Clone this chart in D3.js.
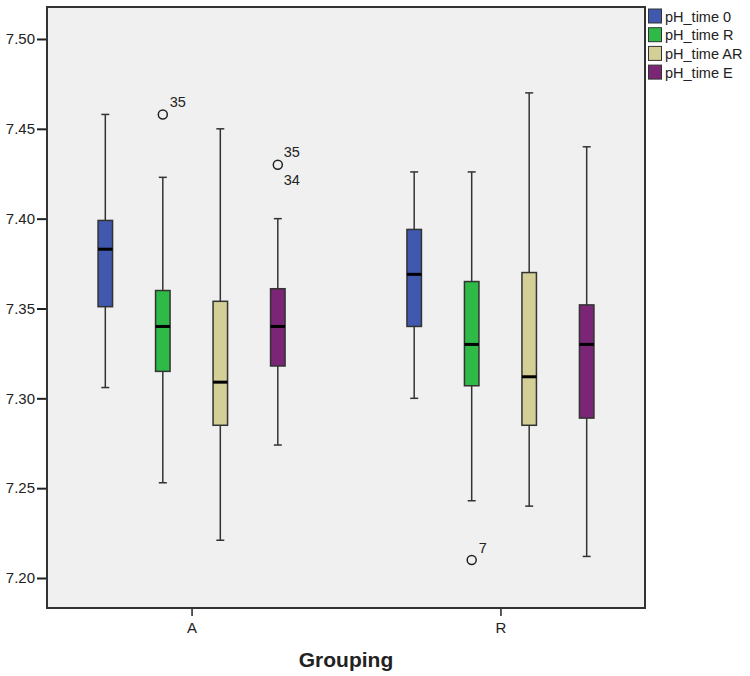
<!DOCTYPE html>
<html>
<head>
<meta charset="utf-8">
<script src="https://cdn.jsdelivr.net/npm/d3@7"></script>
<style>
  body { margin: 0; background: #fff; }
  svg { display: block; font-family: Arial, "Liberation Sans", sans-serif; }
</style>
</head>
<body>
<div id="chart"></div>
<script>
// groups on the x axis and the four measured series
const groups = ["A", "R"];
const seriesNames = ["pH_time 0", "pH_time R", "pH_time AR", "pH_time E"];
const seriesColors = ["#4058AD", "#2FBA48", "#D3CF97", "#7B2577"];
const yTicks = [7.20, 7.25, 7.30, 7.35, 7.40, 7.45, 7.50];

// box stats per group: [whiskerLow, q1, median, q3, whiskerHigh]
const statsA = [
  [7.306, 7.351, 7.383, 7.399, 7.458],
  [7.253, 7.315, 7.340, 7.360, 7.423],
  [7.221, 7.285, 7.309, 7.354, 7.450],
  [7.274, 7.318, 7.340, 7.361, 7.400]
];
const statsR = [
  [7.300, 7.340, 7.369, 7.394, 7.426],
  [7.243, 7.307, 7.330, 7.365, 7.426],
  [7.240, 7.285, 7.312, 7.370, 7.470],
  [7.212, 7.289, 7.330, 7.352, 7.440]
];

// outliers: group, series index, value, case labels
const outliers = [
  { group: "A", s: 1, value: 7.458, labels: ["35"] },
  { group: "A", s: 3, value: 7.430, labels: ["35", "34"] },
  { group: "R", s: 1, value: 7.210, labels: ["7"] }
];

const width = 750, height = 676;
const plot = { left: 47, top: 7, right: 645, bottom: 608 };

const svg = d3.select("#chart").append("svg")
  .attr("width", width)
  .attr("height", height);

// background of the plot
svg.append("rect")
  .attr("x", plot.left).attr("y", plot.top)
  .attr("width", plot.right - plot.left)
  .attr("height", plot.bottom - plot.top)
  .attr("fill", "#F0F0F0");

const x = d3.scalePoint().domain(groups)
  .range([plot.left, plot.right]).padding(0.468);

const inner = d3.scaleBand().domain(d3.range(seriesNames.length))
  .range([-115, 115]).paddingInner(0).paddingOuter(0);

const y = d3.scaleLinear().domain([7.1833, 7.5178])
  .range([plot.bottom, plot.top]);

const boxW = 14.5;
const capW = 8;

const statsByGroup = { A: statsA, R: statsR };

groups.forEach((g) => {
  statsByGroup[g].forEach((st, i) => {
    const cx = x(g) + inner(i) + inner.bandwidth() / 2;
    const gg = svg.append("g");
    // whisker
    gg.append("line")
      .attr("x1", cx).attr("x2", cx)
      .attr("y1", y(st[0])).attr("y2", y(st[4]))
      .attr("stroke", "#333").attr("stroke-width", 1.5);
    [st[0], st[4]].forEach((v) => {
      gg.append("line")
        .attr("x1", cx - capW / 2).attr("x2", cx + capW / 2)
        .attr("y1", y(v)).attr("y2", y(v))
        .attr("stroke", "#333").attr("stroke-width", 1.5);
    });
    // box
    gg.append("rect")
      .attr("x", cx - boxW / 2).attr("y", y(st[3]))
      .attr("width", boxW).attr("height", y(st[1]) - y(st[3]))
      .attr("fill", seriesColors[i])
      .attr("stroke", "#333").attr("stroke-width", 1.5);
    // median
    gg.append("line")
      .attr("x1", cx - boxW / 2).attr("x2", cx + boxW / 2)
      .attr("y1", y(st[2])).attr("y2", y(st[2]))
      .attr("stroke", "#000").attr("stroke-width", 3);
  });
});

// outliers
outliers.forEach((o) => {
  const cx = x(o.group) + inner(o.s) + inner.bandwidth() / 2;
  const cy = y(o.value);
  svg.append("circle")
    .attr("cx", cx).attr("cy", cy).attr("r", 4.5)
    .attr("fill", "none").attr("stroke", "#222").attr("stroke-width", 1.5);
  if (o.labels.length === 1) {
    svg.append("text")
      .attr("x", cx + 7).attr("y", cy - 7)
      .attr("font-size", 14.5).attr("fill", "#222")
      .text(o.labels[0]);
  } else {
    svg.append("text")
      .attr("x", cx + 6).attr("y", cy - 8)
      .attr("font-size", 14.5).attr("fill", "#222")
      .text(o.labels[0]);
    svg.append("text")
      .attr("x", cx + 6).attr("y", cy + 20)
      .attr("font-size", 14.5).attr("fill", "#222")
      .text(o.labels[1]);
  }
});

// axes
const yAxis = d3.axisLeft(y).tickValues(yTicks)
  .tickFormat(d3.format(".2f")).tickSize(10).tickSizeOuter(0);
const gy = svg.append("g")
  .attr("transform", `translate(${plot.left},0)`)
  .call(yAxis);
gy.select(".domain").remove();
gy.selectAll(".tick line").attr("stroke", "#222").attr("stroke-width", 2);
gy.selectAll(".tick text").attr("font-size", 15).attr("fill", "#222")
  .attr("font-family", "Arial, 'Liberation Sans', sans-serif").attr("dx", 1);

const xAxis = d3.axisBottom(x).tickSize(8).tickSizeOuter(0);
const gx = svg.append("g")
  .attr("transform", `translate(0,${plot.bottom})`)
  .call(xAxis);
gx.select(".domain").remove();
gx.selectAll(".tick line").attr("stroke", "#222").attr("stroke-width", 1.5);
gx.selectAll(".tick text").attr("font-size", 15).attr("fill", "#222")
  .attr("font-family", "Arial, 'Liberation Sans', sans-serif").attr("dy", "0.9em");

// frame
svg.append("rect")
  .attr("x", plot.left).attr("y", plot.top)
  .attr("width", plot.right - plot.left)
  .attr("height", plot.bottom - plot.top)
  .attr("fill", "none").attr("stroke", "#333").attr("stroke-width", 2);

// x axis title
svg.append("text")
  .attr("x", (plot.left + plot.right) / 2).attr("y", 667)
  .attr("text-anchor", "middle")
  .attr("font-size", 21).attr("font-weight", "bold").attr("fill", "#222")
  .text("Grouping");

// legend
const legend = svg.append("g").attr("transform", "translate(648,9)");
seriesNames.forEach((name, i) => {
  const row = legend.append("g").attr("transform", `translate(0,${i * 18.7})`);
  row.append("rect")
    .attr("x", 0.5).attr("y", 0).attr("width", 13).attr("height", 14)
    .attr("fill", seriesColors[i]).attr("stroke", "#333").attr("stroke-width", 1);
  row.append("text")
    .attr("x", 17).attr("y", 12.5)
    .attr("font-size", 14.5).attr("fill", "#222")
    .text(name);
});
</script>
</body>
</html>
